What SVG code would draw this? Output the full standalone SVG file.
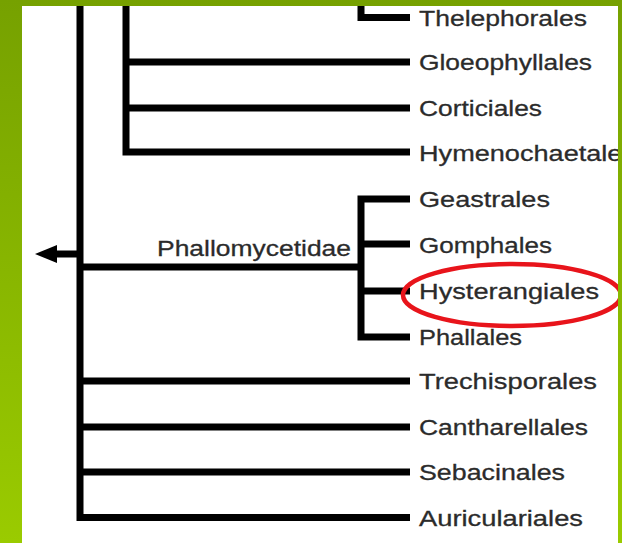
<svg xmlns="http://www.w3.org/2000/svg" width="622" height="543" viewBox="0 0 622 543">
  <defs>
    <linearGradient id="bg" x1="0" y1="0" x2="0" y2="1">
      <stop offset="0" stop-color="#76a100"/>
      <stop offset="1" stop-color="#9acb00"/>
    </linearGradient>
    <marker id="arrow" markerUnits="userSpaceOnUse" markerWidth="24" markerHeight="20" refX="0" refY="10" orient="auto">
      <polygon points="0,1 22,10 0,19" fill="#000"/>
    </marker>
    <style>
      .ln { fill: none; stroke: #000; stroke-width: 7; stroke-linecap: butt; stroke-linejoin: miter; }
      .lbl { font-family: "Liberation Sans", Arial, sans-serif; font-size: 22.5px; fill: #2b2b2b; stroke: #2b2b2b; stroke-width: 0.3; }
    </style>
  </defs>

  <rect x="0" y="0" width="622" height="543" fill="#fff"/>

  <g id="connectors">
    <path class="ln" d="M80,0 V521"/>
    <path class="ln" d="M80,254 H57" marker-end="url(#arrow)"/>
    <path class="ln" d="M126,0 V155.5 M126,152 H410 M126,62 H410 M126,108 H410"/>
    <path class="ln" d="M361,0 V17.5 H410"/>
    <path class="ln" d="M80,267 H361 M361,195.5 V340.5 M361,199 H410 M361,244 H410 M361,291 H410 M361,337 H410"/>
    <path class="ln" d="M80,381 H410 M80,427 H410 M80,472 H410 M80,517.5 H410"/>
  </g>

  <g id="node-thelephorales"><text class="lbl" x="419" y="25.5" textLength="168" lengthAdjust="spacingAndGlyphs">Thelephorales</text></g>
  <g id="node-gloeophyllales"><text class="lbl" x="419" y="70" textLength="173" lengthAdjust="spacingAndGlyphs">Gloeophyllales</text></g>
  <g id="node-corticiales"><text class="lbl" x="419" y="116" textLength="123" lengthAdjust="spacingAndGlyphs">Corticiales</text></g>
  <g id="node-hymenochaetales"><text class="lbl" x="419" y="160.5" textLength="217" lengthAdjust="spacingAndGlyphs">Hymenochaetales</text></g>
  <g id="node-phallomycetidae"><text class="lbl" x="157" y="256" textLength="194" lengthAdjust="spacingAndGlyphs">Phallomycetidae</text></g>
  <g id="node-geastrales"><text class="lbl" x="419" y="207" textLength="131" lengthAdjust="spacingAndGlyphs">Geastrales</text></g>
  <g id="node-gomphales"><text class="lbl" x="419" y="252.5" textLength="133" lengthAdjust="spacingAndGlyphs">Gomphales</text></g>
  <g id="node-hysterangiales">
    <text class="lbl" x="419" y="298.5" textLength="180" lengthAdjust="spacingAndGlyphs">Hysterangiales</text>
    <ellipse cx="512" cy="295" rx="109" ry="31" fill="none" stroke="#e8141b" stroke-width="4.5"/>
  </g>
  <g id="node-phallales"><text class="lbl" x="419" y="344.5" textLength="103" lengthAdjust="spacingAndGlyphs">Phallales</text></g>
  <g id="node-trechisporales"><text class="lbl" x="419" y="389" textLength="178" lengthAdjust="spacingAndGlyphs">Trechisporales</text></g>
  <g id="node-cantharellales"><text class="lbl" x="419" y="435" textLength="169" lengthAdjust="spacingAndGlyphs">Cantharellales</text></g>
  <g id="node-sebacinales"><text class="lbl" x="419" y="480" textLength="146" lengthAdjust="spacingAndGlyphs">Sebacinales</text></g>
  <g id="node-auriculariales"><text class="lbl" x="419" y="525.5" textLength="164" lengthAdjust="spacingAndGlyphs">Auriculariales</text></g>

  <path fill="url(#bg)" fill-rule="evenodd" d="M0,0 H622 V543 H0 Z M22,6 V543 H618 V6 Z"/>
</svg>
